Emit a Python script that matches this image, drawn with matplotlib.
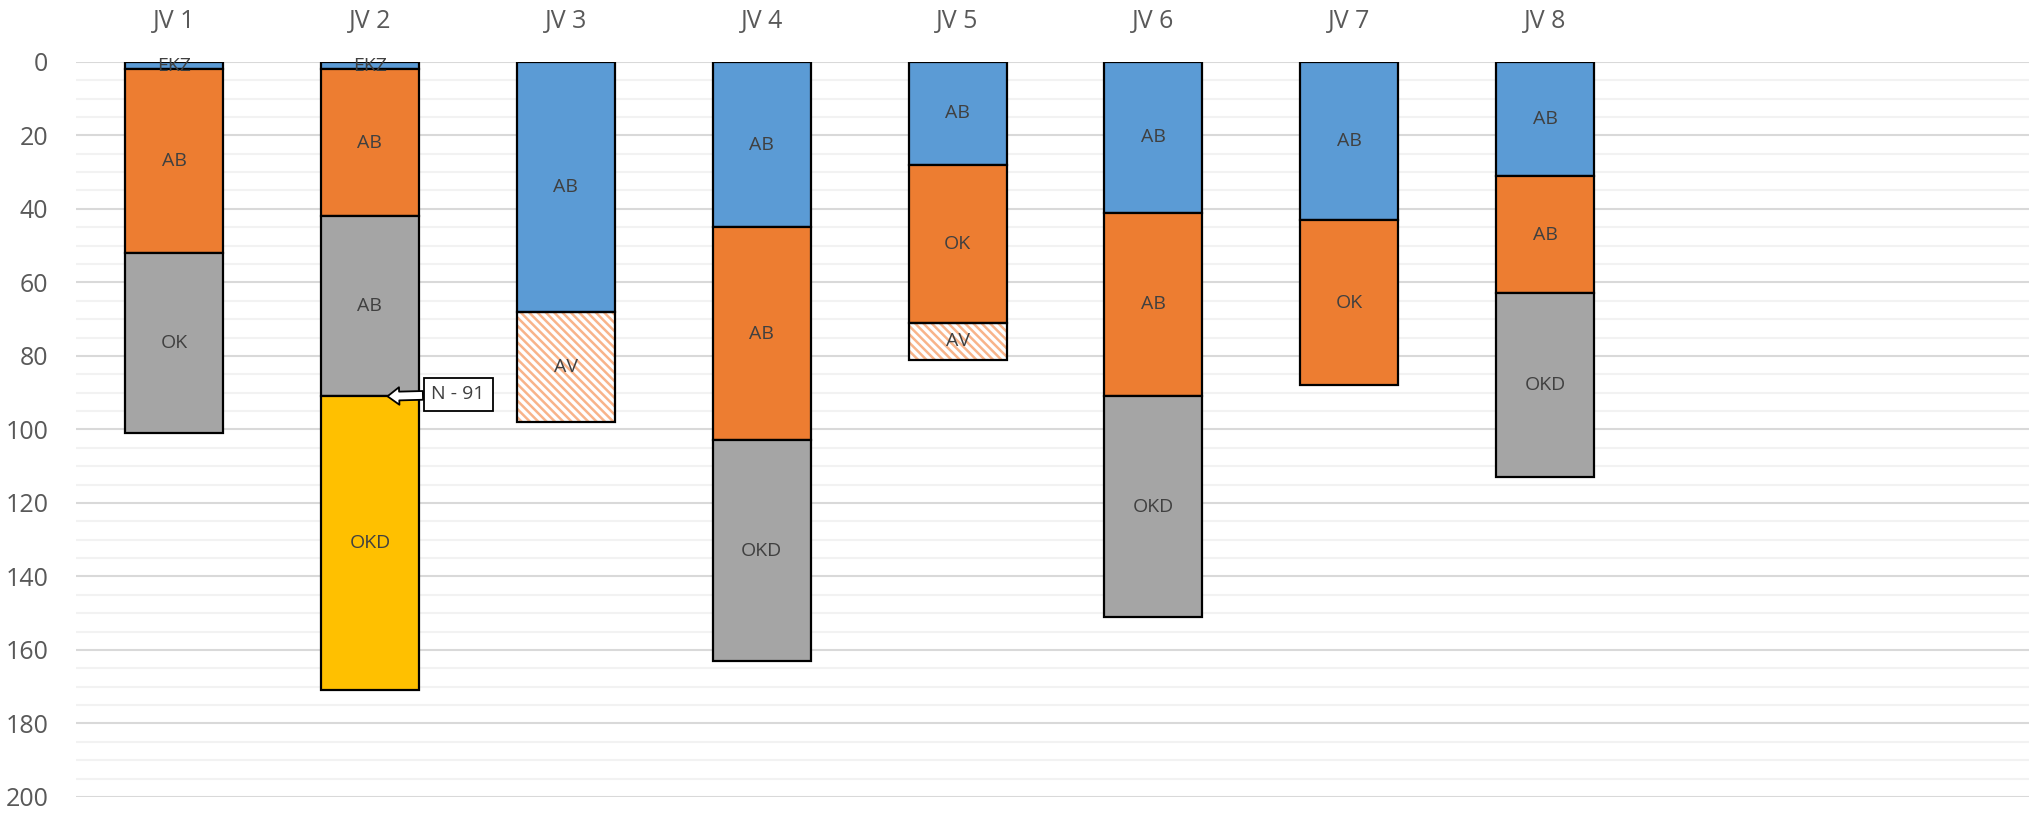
import numpy as np
import matplotlib
matplotlib.use("Agg")
import matplotlib.pyplot as plt

plt.rcParams['font.family'] = ['Open Sans', 'DejaVu Sans']
plt.rcParams['hatch.linewidth'] = 1.8

categories = ['JV 1', 'JV 2', 'JV 3', 'JV 4', 'JV 5', 'JV 6', 'JV 7', 'JV 8', '', '']

# layer thicknesses from the top down (depth)
layer1 = [2, 2, 68, 45, 28, 41, 43, 31]
layer2 = [50, 40, 30, 58, 43, 50, 45, 32]
layer3 = [49, 49, 0, 60, 10, 60, 0, 50]
layer4 = [0, 80, 0, 0, 0, 0, 0, 0]

labels1 = ['EKZ', 'EKZ', 'AB', 'AB', 'AB', 'AB', 'AB', 'AB']
labels2 = ['AB', 'AB', 'AV', 'AB', 'OK', 'AB', 'OK', 'AB']
labels3 = ['OK', 'AB', '', 'OKD', 'AV', 'OKD', '', 'OKD']
labels4 = ['', 'OKD', '', '', '', '', '', '']

# fill style per segment: b=blue, o=orange, g=gray, y=yellow, h=hatched
style1 = ['b'] * 8
style2 = ['o', 'o', 'h', 'o', 'o', 'o', 'o', 'o']
style3 = ['g', 'g', 'g', 'g', 'h', 'g', 'g', 'g']
style4 = ['y'] * 8

colors = {'b': '#5B9BD5', 'o': '#ED7D31', 'g': '#A5A5A5', 'y': '#FFC000'}

fig = plt.figure(figsize=(20.29, 8.14), dpi=100)
ax = fig.add_axes([0.0375, 0.021, 0.9625, 0.903])

x = np.arange(len(layer1))
width = 0.5
bottom = np.zeros(len(layer1))
for vals, labs, sty in [(layer1, labels1, style1), (layer2, labels2, style2),
                        (layer3, labels3, style3), (layer4, labels4, style4)]:
    for i in range(len(vals)):
        if vals[i] == 0:
            continue
        if sty[i] == 'h':
            ax.bar(x[i], vals[i], width, bottom=bottom[i], color='white',
                   hatch='\\\\\\\\', edgecolor='#F8B48A', linewidth=0, zorder=2)
            ax.bar(x[i], vals[i], width, bottom=bottom[i], fill=False,
                   edgecolor='black', linewidth=1.6, zorder=3)
        else:
            ax.bar(x[i], vals[i], width, bottom=bottom[i], color=colors[sty[i]],
                   edgecolor='black', linewidth=1.6, zorder=3)
        ax.text(x[i], bottom[i] + vals[i] / 2, labs[i], ha='center', va='center',
                fontsize=14, color='#404040', zorder=4)
    bottom += np.array(vals)

# callout
ax.annotate('N - 91', xy=(1.09, 91), xytext=(1.45, 90.5), fontsize=14, color='#404040',
            ha='center', va='center', zorder=5,
            bbox=dict(boxstyle='square,pad=0.4', fc='white', ec='black', lw=1.3),
            arrowprops=dict(arrowstyle='simple,head_length=0.6,head_width=0.9,tail_width=0.45',
                            fc='white', ec='black', lw=1.3, shrinkA=0, shrinkB=0))

ax.set_xlim(-0.5, len(categories) - 0.53)
ax.set_ylim(200, 0)
ax.set_yticks(np.arange(0, 201, 20))
ax.set_yticks(np.arange(0, 201, 5), minor=True)
ax.grid(axis='y', which='major', color='#D9D9D9', lw=1.5, zorder=0)
ax.grid(axis='y', which='minor', color='#F2F2F2', lw=1.5, zorder=0)
ax.set_axisbelow(True)
ax.xaxis.tick_top()
ax.set_xticks(np.arange(len(categories)))
ax.set_xticklabels(categories)
ax.tick_params(axis='x', which='both', length=0, pad=20, labelsize=18, labelcolor='#595959')
ax.tick_params(axis='y', which='both', length=0, pad=20, labelsize=18, labelcolor='#595959')
for s in ax.spines.values():
    s.set_visible(False)

fig.savefig('out.png', dpi=100)
